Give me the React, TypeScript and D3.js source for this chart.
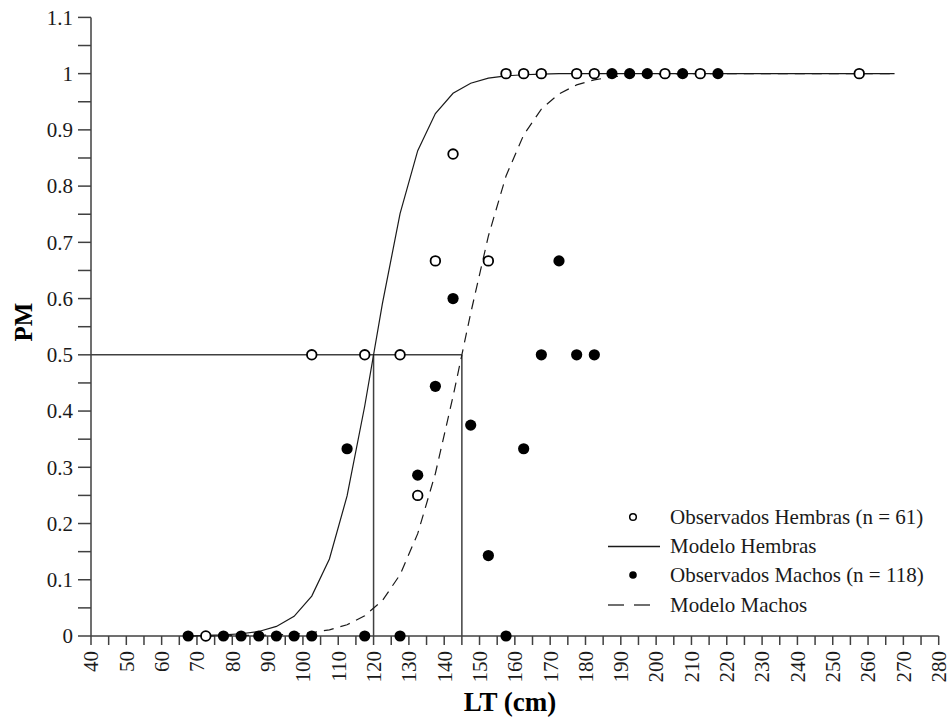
import React from "react";
import * as d3 from "d3";

// Observed proportions (class midpoints, cm)
const femLT = [72.5, 102.5, 117.5, 127.5, 132.5, 137.5, 142.5, 152.5, 157.5, 162.5, 167.5, 177.5, 182.5, 202.5, 212.5, 257.5];
const femPM = [0, 0.5, 0.5, 0.5, 0.25, 0.667, 0.857, 0.667, 1, 1, 1, 1, 1, 1, 1, 1];

const maleLT = [67.5, 77.5, 82.5, 87.5, 92.5, 97.5, 102.5, 112.5, 117.5, 127.5, 132.5, 137.5, 142.5, 147.5, 152.5, 157.5, 162.5, 167.5, 172.5, 177.5, 182.5, 187.5, 192.5, 197.5, 207.5, 217.5];
const malePM = [0, 0, 0, 0, 0, 0, 0, 0.333, 0, 0, 0.286, 0.444, 0.6, 0.375, 0.143, 0, 0.333, 0.5, 0.667, 0.5, 0.5, 1, 1, 1, 1, 1];

// Model curves (values at class midpoints)
const modelLT = [67.5, 72.5, 77.5, 82.5, 87.5, 92.5, 97.5, 102.5, 107.5, 112.5, 117.5, 122.5, 127.5, 132.5, 137.5, 142.5, 147.5, 152.5, 157.5, 162.5, 167.5, 172.5, 177.5, 182.5, 187.5, 192.5, 197.5, 202.5, 207.5, 212.5, 217.5, 222.5, 227.5, 232.5, 237.5, 242.5, 247.5, 252.5, 257.5, 262.5, 267.5];
const modelFem = [0, 0.001, 0.002, 0.004, 0.008, 0.017, 0.035, 0.071, 0.137, 0.249, 0.409, 0.591, 0.751, 0.863, 0.929, 0.965, 0.983, 0.992, 0.996, 0.998, 0.999, 1, 1, 1, 1, 1, 1, 1, 1, 1, 1, 1, 1, 1, 1, 1, 1, 1, 1, 1, 1];
const modelMale = [0, 0, 0, 0.001, 0.001, 0.002, 0.003, 0.006, 0.011, 0.02, 0.036, 0.063, 0.109, 0.182, 0.289, 0.426, 0.574, 0.711, 0.818, 0.891, 0.937, 0.964, 0.98, 0.989, 0.994, 0.997, 0.998, 0.999, 1, 1, 1, 1, 1, 1, 1, 1, 1, 1, 1, 1, 1];

const L50Fem = 120;
const L50Male = 145;

const xTickLabels = d3.range(40, 281, 10);
const xTicksAll = d3.range(40, 281, 5);
const yTickLabels = d3.range(0, 11).map((i) => i / 10).concat([1.1]);
const yTicksAll = d3.range(0, 23).map((i) => i * 0.05);

const legendLabels = ["Observados Hembras (n = 61)", "Modelo Hembras", "Observados Machos (n = 118)", "Modelo Machos"];

const FONT = "'Liberation Serif', 'Times New Roman', serif";
const INK = "#1a1a1a";
const AXIS = "#404040";

export default function App() {
  const x = d3.scaleLinear().domain([40, 280]).range([91, 938.7]);
  const y = d3.scaleLinear().domain([0, 1.1]).range([636, 17.4]);

  const lineGen = d3
    .line<[number, number]>()
    .x((d) => x(d[0]))
    .y((d) => y(d[1]));

  const femPath = lineGen(modelLT.map((l, i) => [l, modelFem[i]] as [number, number])) || "";
  const malePath = lineGen(modelLT.map((l, i) => [l, modelMale[i]] as [number, number])) || "";

  const fmtY = (v: number) => (Math.abs(v - Math.round(v)) < 1e-9 ? String(Math.round(v)) : v.toFixed(1));

  const legX = 633;
  const legTextX = 670;
  const legRows = [517, 546.5, 575, 605];

  return (
    <svg
      width={950}
      height={717}
      style={{ position: "absolute", left: 0, top: 0, display: "block", background: "#fff" }}
      fontFamily={FONT}
    >
      <rect x={0} y={0} width={950} height={717} fill="#fff" />

      {/* Y axis */}
      <line x1={x(40)} x2={x(40)} y1={y(0)} y2={y(1.1)} stroke={AXIS} strokeWidth={1.5} />
      {yTicksAll.map((v, i) => (
        <line key={"yt" + i} x1={x(40) - 13} x2={x(40)} y1={y(v)} y2={y(v)} stroke={AXIS} strokeWidth={1.5} />
      ))}
      {yTickLabels.map((v, i) => (
        <text key={"yl" + i} x={73} y={y(v)} dy="0.35em" textAnchor="end" fontSize={21} fill={INK}>
          {fmtY(v)}
        </text>
      ))}

      {/* X axis */}
      <line x1={x(40)} x2={x(280)} y1={y(0)} y2={y(0)} stroke={AXIS} strokeWidth={1.5} />
      {xTicksAll.map((v, i) => (
        <line key={"xt" + i} x1={x(v)} x2={x(v)} y1={y(0)} y2={y(0) + 9} stroke={AXIS} strokeWidth={1.5} />
      ))}
      {xTickLabels.map((v, i) => (
        <text
          key={"xl" + i}
          transform={`translate(${x(v)},651) rotate(-90)`}
          dy="0.35em"
          textAnchor="end"
          fontSize={21}
          fill={INK}
        >
          {v}
        </text>
      ))}

      {/* Axis titles */}
      <text x={510} y={711} textAnchor="middle" fontSize={27} fontWeight="bold" fill="#000">
        LT (cm)
      </text>
      <text transform={`translate(32,322) rotate(-90)`} textAnchor="middle" fontSize={25} fontWeight="bold" fill="#000">
        PM
      </text>

      {/* L50 reference lines */}
      <line x1={x(40)} x2={x(L50Male)} y1={y(0.5)} y2={y(0.5)} stroke={AXIS} strokeWidth={1.5} />
      <line x1={x(L50Fem)} x2={x(L50Fem)} y1={y(0.5)} y2={y(0)} stroke={AXIS} strokeWidth={1.5} />
      <line x1={x(L50Male)} x2={x(L50Male)} y1={y(0.5)} y2={y(0)} stroke={AXIS} strokeWidth={1.5} />

      {/* Model curves */}
      <path d={femPath} fill="none" stroke={INK} strokeWidth={1.2} />
      <path d={malePath} fill="none" stroke={INK} strokeWidth={1.2} strokeDasharray="10,7" />

      {/* Observed points */}
      {femLT.map((l, i) => (
        <circle key={"f" + i} cx={x(l)} cy={y(femPM[i])} r={4.8} fill="#fff" stroke="#000" strokeWidth={1.8} />
      ))}
      {maleLT.map((l, i) => (
        <circle key={"m" + i} cx={x(l)} cy={y(malePM[i])} r={5.6} fill="#000" />
      ))}

      {/* Legend */}
      <circle cx={legX} cy={legRows[0]} r={3.3} fill="#fff" stroke="#000" strokeWidth={1.5} />
      <line x1={608} x2={660} y1={legRows[1]} y2={legRows[1]} stroke={INK} strokeWidth={1.3} />
      <circle cx={legX} cy={legRows[2]} r={3.8} fill="#000" />
      <line x1={608} x2={660} y1={legRows[3]} y2={legRows[3]} stroke={AXIS} strokeWidth={1.5} strokeDasharray="16,10" />
      {legendLabels.map((t, i) => (
        <text key={"lg" + i} x={legTextX} y={legRows[i]} dy="0.33em" fontSize={21} fill={INK}>
          {t}
        </text>
      ))}
    </svg>
  );
}
